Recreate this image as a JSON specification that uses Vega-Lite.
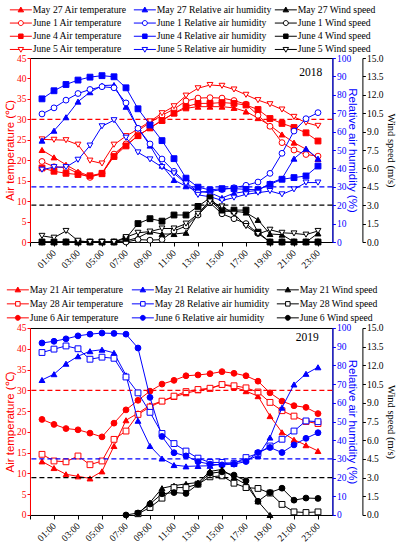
{
"$schema":"https://vega.github.io/schema/vega-lite/v6.json",
"padding":{"left":4,"top":4,"right":0,"bottom":0},
"spacing":14,
"config":{
 "view":{"stroke":"#000000","strokeWidth":1},
 "axis":{"grid":false,"labelFont":"Liberation Serif","labelFontSize":9.5,"titleFont":"Liberation Sans","titleFontSize":11.5,"titleFontWeight":"normal","tickSize":3,"labelPadding":1,"titlePadding":1,"domainWidth":1,"tickWidth":1,"labelFlush":false,"labelOverlap":false},
 "legend":{"title":null,"orient":"none","direction":"vertical","symbolSize":25,"symbolStrokeWidth":1,"symbolOpacity":1,"symbolOffset":8,"labelOffset":7,"labelFont":"Liberation Serif","labelFontSize":9.7,"labelColor":"#000000","rowPadding":2.2,"padding":0}
},
"datasets":{
"d2018":[
{"series":"May 27 Air temperature","hour":0,"value":22.5},{"series":"May 27 Air temperature","hour":1,"value":20.7},{"series":"May 27 Air temperature","hour":2,"value":18.9},{"series":"May 27 Air temperature","hour":3,"value":17.2},{"series":"May 27 Air temperature","hour":4,"value":16.1},{"series":"May 27 Air temperature","hour":5,"value":16.6},{"series":"May 27 Air temperature","hour":6,"value":21.3},{"series":"May 27 Air temperature","hour":7,"value":23.7},{"series":"May 27 Air temperature","hour":8,"value":26.0},{"series":"May 27 Air temperature","hour":9,"value":27.9},{"series":"May 27 Air temperature","hour":10,"value":29.8},{"series":"May 27 Air temperature","hour":11,"value":31.5},{"series":"May 27 Air temperature","hour":12,"value":32.7},{"series":"May 27 Air temperature","hour":13,"value":33.1},{"series":"May 27 Air temperature","hour":14,"value":33.1},{"series":"May 27 Air temperature","hour":15,"value":33.1},{"series":"May 27 Air temperature","hour":16,"value":32.8},{"series":"May 27 Air temperature","hour":17,"value":31.9},{"series":"May 27 Air temperature","hour":18,"value":30.3},{"series":"May 27 Air temperature","hour":19,"value":28.5},{"series":"May 27 Air temperature","hour":20,"value":26.3},{"series":"May 27 Air temperature","hour":21,"value":24.3},{"series":"May 27 Air temperature","hour":22,"value":22.7},{"series":"May 27 Air temperature","hour":23,"value":20.3},
{"series":"June 1 Air temperature","hour":0,"value":19.7},{"series":"June 1 Air temperature","hour":1,"value":18.4},{"series":"June 1 Air temperature","hour":2,"value":18.2},{"series":"June 1 Air temperature","hour":3,"value":16.8},{"series":"June 1 Air temperature","hour":4,"value":15.8},{"series":"June 1 Air temperature","hour":5,"value":16.8},{"series":"June 1 Air temperature","hour":6,"value":21.5},{"series":"June 1 Air temperature","hour":7,"value":24.0},{"series":"June 1 Air temperature","hour":8,"value":27.2},{"series":"June 1 Air temperature","hour":9,"value":29.2},{"series":"June 1 Air temperature","hour":10,"value":31.0},{"series":"June 1 Air temperature","hour":11,"value":32.5},{"series":"June 1 Air temperature","hour":12,"value":34.5},{"series":"June 1 Air temperature","hour":13,"value":35.2},{"series":"June 1 Air temperature","hour":14,"value":35.3},{"series":"June 1 Air temperature","hour":15,"value":35.2},{"series":"June 1 Air temperature","hour":16,"value":34.6},{"series":"June 1 Air temperature","hour":17,"value":33.7},{"series":"June 1 Air temperature","hour":18,"value":31.0},{"series":"June 1 Air temperature","hour":19,"value":28.3},{"series":"June 1 Air temperature","hour":20,"value":24.3},{"series":"June 1 Air temperature","hour":21,"value":22.5},{"series":"June 1 Air temperature","hour":22,"value":21.4},{"series":"June 1 Air temperature","hour":23,"value":21.0},
{"series":"June 4 Air temperature","hour":0,"value":18.1},{"series":"June 4 Air temperature","hour":1,"value":17.3},{"series":"June 4 Air temperature","hour":2,"value":16.8},{"series":"June 4 Air temperature","hour":3,"value":16.5},{"series":"June 4 Air temperature","hour":4,"value":16.2},{"series":"June 4 Air temperature","hour":5,"value":16.8},{"series":"June 4 Air temperature","hour":6,"value":20.9},{"series":"June 4 Air temperature","hour":7,"value":23.5},{"series":"June 4 Air temperature","hour":8,"value":26.0},{"series":"June 4 Air temperature","hour":9,"value":27.9},{"series":"June 4 Air temperature","hour":10,"value":29.7},{"series":"June 4 Air temperature","hour":11,"value":31.5},{"series":"June 4 Air temperature","hour":12,"value":33.1},{"series":"June 4 Air temperature","hour":13,"value":33.9},{"series":"June 4 Air temperature","hour":14,"value":33.9},{"series":"June 4 Air temperature","hour":15,"value":34.1},{"series":"June 4 Air temperature","hour":16,"value":33.9},{"series":"June 4 Air temperature","hour":17,"value":33.5},{"series":"June 4 Air temperature","hour":18,"value":32.4},{"series":"June 4 Air temperature","hour":19,"value":30.2},{"series":"June 4 Air temperature","hour":20,"value":29.0},{"series":"June 4 Air temperature","hour":21,"value":28.0},{"series":"June 4 Air temperature","hour":22,"value":26.7},{"series":"June 4 Air temperature","hour":23,"value":24.7},
{"series":"June 5 Air temperature","hour":0,"value":25.1},{"series":"June 5 Air temperature","hour":1,"value":25.0},{"series":"June 5 Air temperature","hour":2,"value":24.9},{"series":"June 5 Air temperature","hour":3,"value":23.8},{"series":"June 5 Air temperature","hour":4,"value":19.9},{"series":"June 5 Air temperature","hour":5,"value":19.2},{"series":"June 5 Air temperature","hour":6,"value":23.8},{"series":"June 5 Air temperature","hour":7,"value":25.9},{"series":"June 5 Air temperature","hour":8,"value":27.6},{"series":"June 5 Air temperature","hour":9,"value":29.5},{"series":"June 5 Air temperature","hour":10,"value":31.5},{"series":"June 5 Air temperature","hour":11,"value":33.2},{"series":"June 5 Air temperature","hour":12,"value":35.8},{"series":"June 5 Air temperature","hour":13,"value":37.6},{"series":"June 5 Air temperature","hour":14,"value":38.4},{"series":"June 5 Air temperature","hour":15,"value":38.2},{"series":"June 5 Air temperature","hour":16,"value":37.3},{"series":"June 5 Air temperature","hour":17,"value":36.0},{"series":"June 5 Air temperature","hour":18,"value":34.7},{"series":"June 5 Air temperature","hour":19,"value":33.7},{"series":"June 5 Air temperature","hour":20,"value":32.4},{"series":"June 5 Air temperature","hour":21,"value":30.6},{"series":"June 5 Air temperature","hour":22,"value":29.2},{"series":"June 5 Air temperature","hour":23,"value":28.4},
{"series":"May 27 Relative air humidity","hour":0,"value":55.1},{"series":"May 27 Relative air humidity","hour":1,"value":60.5},{"series":"May 27 Relative air humidity","hour":2,"value":67.8},{"series":"May 27 Relative air humidity","hour":3,"value":76.3},{"series":"May 27 Relative air humidity","hour":4,"value":81.4},{"series":"May 27 Relative air humidity","hour":5,"value":85.0},{"series":"May 27 Relative air humidity","hour":6,"value":85.3},{"series":"May 27 Relative air humidity","hour":7,"value":73.5},{"series":"May 27 Relative air humidity","hour":8,"value":62.0},{"series":"May 27 Relative air humidity","hour":9,"value":52.4},{"series":"May 27 Relative air humidity","hour":10,"value":41.5},{"series":"May 27 Relative air humidity","hour":11,"value":33.7},{"series":"May 27 Relative air humidity","hour":12,"value":30.3},{"series":"May 27 Relative air humidity","hour":13,"value":27.5},{"series":"May 27 Relative air humidity","hour":14,"value":26.8},{"series":"May 27 Relative air humidity","hour":15,"value":24.0},{"series":"May 27 Relative air humidity","hour":16,"value":26.5},{"series":"May 27 Relative air humidity","hour":17,"value":27.4},{"series":"May 27 Relative air humidity","hour":18,"value":28.0},{"series":"May 27 Relative air humidity","hour":19,"value":31.9},{"series":"May 27 Relative air humidity","hour":20,"value":34.5},{"series":"May 27 Relative air humidity","hour":21,"value":45.3},{"series":"May 27 Relative air humidity","hour":22,"value":50.7},{"series":"May 27 Relative air humidity","hour":23,"value":45.3},
{"series":"June 1 Relative air humidity","hour":0,"value":69.6},{"series":"June 1 Relative air humidity","hour":1,"value":72.9},{"series":"June 1 Relative air humidity","hour":2,"value":77.1},{"series":"June 1 Relative air humidity","hour":3,"value":80.7},{"series":"June 1 Relative air humidity","hour":4,"value":82.9},{"series":"June 1 Relative air humidity","hour":5,"value":84.4},{"series":"June 1 Relative air humidity","hour":6,"value":83.8},{"series":"June 1 Relative air humidity","hour":7,"value":75.6},{"series":"June 1 Relative air humidity","hour":8,"value":61.8},{"series":"June 1 Relative air humidity","hour":9,"value":53.3},{"series":"June 1 Relative air humidity","hour":10,"value":45.1},{"series":"June 1 Relative air humidity","hour":11,"value":38.4},{"series":"June 1 Relative air humidity","hour":12,"value":32.4},{"series":"June 1 Relative air humidity","hour":13,"value":27.1},{"series":"June 1 Relative air humidity","hour":14,"value":27.5},{"series":"June 1 Relative air humidity","hour":15,"value":28.5},{"series":"June 1 Relative air humidity","hour":16,"value":29.5},{"series":"June 1 Relative air humidity","hour":17,"value":30.8},{"series":"June 1 Relative air humidity","hour":18,"value":32.6},{"series":"June 1 Relative air humidity","hour":19,"value":37.3},{"series":"June 1 Relative air humidity","hour":20,"value":48.2},{"series":"June 1 Relative air humidity","hour":21,"value":60.3},{"series":"June 1 Relative air humidity","hour":22,"value":67.0},{"series":"June 1 Relative air humidity","hour":23,"value":70.3},
{"series":"June 4 Relative air humidity","hour":0,"value":77.8},{"series":"June 4 Relative air humidity","hour":1,"value":82.2},{"series":"June 4 Relative air humidity","hour":2,"value":85.6},{"series":"June 4 Relative air humidity","hour":3,"value":88.0},{"series":"June 4 Relative air humidity","hour":4,"value":89.6},{"series":"June 4 Relative air humidity","hour":5,"value":90.4},{"series":"June 4 Relative air humidity","hour":6,"value":89.8},{"series":"June 4 Relative air humidity","hour":7,"value":83.8},{"series":"June 4 Relative air humidity","hour":8,"value":72.4},{"series":"June 4 Relative air humidity","hour":9,"value":63.6},{"series":"June 4 Relative air humidity","hour":10,"value":55.1},{"series":"June 4 Relative air humidity","hour":11,"value":45.3},{"series":"June 4 Relative air humidity","hour":12,"value":34.7},{"series":"June 4 Relative air humidity","hour":13,"value":29.8},{"series":"June 4 Relative air humidity","hour":14,"value":28.3},{"series":"June 4 Relative air humidity","hour":15,"value":29.0},{"series":"June 4 Relative air humidity","hour":16,"value":29.0},{"series":"June 4 Relative air humidity","hour":17,"value":28.6},{"series":"June 4 Relative air humidity","hour":18,"value":28.4},{"series":"June 4 Relative air humidity","hour":19,"value":31.3},{"series":"June 4 Relative air humidity","hour":20,"value":34.1},{"series":"June 4 Relative air humidity","hour":21,"value":35.0},{"series":"June 4 Relative air humidity","hour":22,"value":35.9},{"series":"June 4 Relative air humidity","hour":23,"value":41.3},
{"series":"June 5 Relative air humidity","hour":0,"value":39.3},{"series":"June 5 Relative air humidity","hour":1,"value":40.7},{"series":"June 5 Relative air humidity","hour":2,"value":40.7},{"series":"June 5 Relative air humidity","hour":3,"value":44.7},{"series":"June 5 Relative air humidity","hour":4,"value":52.4},{"series":"June 5 Relative air humidity","hour":5,"value":62.9},{"series":"June 5 Relative air humidity","hour":6,"value":66.2},{"series":"June 5 Relative air humidity","hour":7,"value":56.7},{"series":"June 5 Relative air humidity","hour":8,"value":48.7},{"series":"June 5 Relative air humidity","hour":9,"value":44.9},{"series":"June 5 Relative air humidity","hour":10,"value":40.7},{"series":"June 5 Relative air humidity","hour":11,"value":37.3},{"series":"June 5 Relative air humidity","hour":12,"value":31.8},{"series":"June 5 Relative air humidity","hour":13,"value":25.6},{"series":"June 5 Relative air humidity","hour":14,"value":24.6},{"series":"June 5 Relative air humidity","hour":15,"value":22.6},{"series":"June 5 Relative air humidity","hour":16,"value":24.1},{"series":"June 5 Relative air humidity","hour":17,"value":25.9},{"series":"June 5 Relative air humidity","hour":18,"value":26.8},{"series":"June 5 Relative air humidity","hour":19,"value":27.7},{"series":"June 5 Relative air humidity","hour":20,"value":25.9},{"series":"June 5 Relative air humidity","hour":21,"value":28.6},{"series":"June 5 Relative air humidity","hour":22,"value":32.3},{"series":"June 5 Relative air humidity","hour":23,"value":32.3},
{"series":"May 27 Wind speed","hour":0,"value":0},{"series":"May 27 Wind speed","hour":1,"value":0},{"series":"May 27 Wind speed","hour":2,"value":0},{"series":"May 27 Wind speed","hour":3,"value":0},{"series":"May 27 Wind speed","hour":4,"value":0},{"series":"May 27 Wind speed","hour":5,"value":0},{"series":"May 27 Wind speed","hour":6,"value":0},{"series":"May 27 Wind speed","hour":7,"value":0.1},{"series":"May 27 Wind speed","hour":8,"value":0.35},{"series":"May 27 Wind speed","hour":9,"value":0.85},{"series":"May 27 Wind speed","hour":10,"value":0.65},{"series":"May 27 Wind speed","hour":11,"value":0.65},{"series":"May 27 Wind speed","hour":12,"value":0.75},{"series":"May 27 Wind speed","hour":13,"value":2.3},{"series":"May 27 Wind speed","hour":14,"value":3.4},{"series":"May 27 Wind speed","hour":15,"value":2.5},{"series":"May 27 Wind speed","hour":16,"value":2.5},{"series":"May 27 Wind speed","hour":17,"value":2.4},{"series":"May 27 Wind speed","hour":18,"value":1.8},{"series":"May 27 Wind speed","hour":19,"value":0.65},{"series":"May 27 Wind speed","hour":20,"value":0.6},{"series":"May 27 Wind speed","hour":21,"value":0},{"series":"May 27 Wind speed","hour":22,"value":0},{"series":"May 27 Wind speed","hour":23,"value":0.7},
{"series":"June 1 Wind speed","hour":0,"value":0},{"series":"June 1 Wind speed","hour":1,"value":0},{"series":"June 1 Wind speed","hour":2,"value":0},{"series":"June 1 Wind speed","hour":3,"value":0},{"series":"June 1 Wind speed","hour":4,"value":0},{"series":"June 1 Wind speed","hour":5,"value":0},{"series":"June 1 Wind speed","hour":6,"value":0},{"series":"June 1 Wind speed","hour":7,"value":0},{"series":"June 1 Wind speed","hour":8,"value":0.2},{"series":"June 1 Wind speed","hour":9,"value":0.15},{"series":"June 1 Wind speed","hour":10,"value":0.2},{"series":"June 1 Wind speed","hour":11,"value":0.9},{"series":"June 1 Wind speed","hour":12,"value":1.3},{"series":"June 1 Wind speed","hour":13,"value":2.2},{"series":"June 1 Wind speed","hour":14,"value":3.2},{"series":"June 1 Wind speed","hour":15,"value":2.3},{"series":"June 1 Wind speed","hour":16,"value":1.9},{"series":"June 1 Wind speed","hour":17,"value":1.5},{"series":"June 1 Wind speed","hour":18,"value":0.7},{"series":"June 1 Wind speed","hour":19,"value":0},{"series":"June 1 Wind speed","hour":20,"value":0},{"series":"June 1 Wind speed","hour":21,"value":0},{"series":"June 1 Wind speed","hour":22,"value":0},{"series":"June 1 Wind speed","hour":23,"value":0},
{"series":"June 4 Wind speed","hour":0,"value":0},{"series":"June 4 Wind speed","hour":1,"value":0},{"series":"June 4 Wind speed","hour":2,"value":0},{"series":"June 4 Wind speed","hour":3,"value":0},{"series":"June 4 Wind speed","hour":4,"value":0},{"series":"June 4 Wind speed","hour":5,"value":0},{"series":"June 4 Wind speed","hour":6,"value":0},{"series":"June 4 Wind speed","hour":7,"value":0.3},{"series":"June 4 Wind speed","hour":8,"value":1.5},{"series":"June 4 Wind speed","hour":9,"value":1.9},{"series":"June 4 Wind speed","hour":10,"value":1.7},{"series":"June 4 Wind speed","hour":11,"value":2.2},{"series":"June 4 Wind speed","hour":12,"value":2.2},{"series":"June 4 Wind speed","hour":13,"value":2.9},{"series":"June 4 Wind speed","hour":14,"value":3.6},{"series":"June 4 Wind speed","hour":15,"value":2.6},{"series":"June 4 Wind speed","hour":16,"value":2.6},{"series":"June 4 Wind speed","hour":17,"value":2.6},{"series":"June 4 Wind speed","hour":18,"value":0.8},{"series":"June 4 Wind speed","hour":19,"value":0},{"series":"June 4 Wind speed","hour":20,"value":0},{"series":"June 4 Wind speed","hour":21,"value":0},{"series":"June 4 Wind speed","hour":22,"value":0},{"series":"June 4 Wind speed","hour":23,"value":0},
{"series":"June 5 Wind speed","hour":0,"value":0.5},{"series":"June 5 Wind speed","hour":1,"value":0.35},{"series":"June 5 Wind speed","hour":2,"value":0.9},{"series":"June 5 Wind speed","hour":3,"value":0.1},{"series":"June 5 Wind speed","hour":4,"value":0},{"series":"June 5 Wind speed","hour":5,"value":0},{"series":"June 5 Wind speed","hour":6,"value":0},{"series":"June 5 Wind speed","hour":7,"value":0.4},{"series":"June 5 Wind speed","hour":8,"value":0.75},{"series":"June 5 Wind speed","hour":9,"value":0.85},{"series":"June 5 Wind speed","hour":10,"value":1.1},{"series":"June 5 Wind speed","hour":11,"value":1.1},{"series":"June 5 Wind speed","hour":12,"value":1.5},{"series":"June 5 Wind speed","hour":13,"value":2.3},{"series":"June 5 Wind speed","hour":14,"value":3.3},{"series":"June 5 Wind speed","hour":15,"value":2.9},{"series":"June 5 Wind speed","hour":16,"value":2.3},{"series":"June 5 Wind speed","hour":17,"value":1.3},{"series":"June 5 Wind speed","hour":18,"value":0.65},{"series":"June 5 Wind speed","hour":19,"value":1.0},{"series":"June 5 Wind speed","hour":20,"value":0.75},{"series":"June 5 Wind speed","hour":21,"value":0.7},{"series":"June 5 Wind speed","hour":22,"value":0.6},{"series":"June 5 Wind speed","hour":23,"value":0.9}
],
"d2019":[
{"series":"May 21 Air temperature","hour":0,"value":12.9},{"series":"May 21 Air temperature","hour":1,"value":11.3},{"series":"May 21 Air temperature","hour":2,"value":9.8},{"series":"May 21 Air temperature","hour":3,"value":9.3},{"series":"May 21 Air temperature","hour":4,"value":8.8},{"series":"May 21 Air temperature","hour":5,"value":10.5},{"series":"May 21 Air temperature","hour":6,"value":16.6},{"series":"May 21 Air temperature","hour":7,"value":22.8},{"series":"May 21 Air temperature","hour":8,"value":24.5},{"series":"May 21 Air temperature","hour":9,"value":26.4},{"series":"May 21 Air temperature","hour":10,"value":27.4},{"series":"May 21 Air temperature","hour":11,"value":28.4},{"series":"May 21 Air temperature","hour":12,"value":29.3},{"series":"May 21 Air temperature","hour":13,"value":30.0},{"series":"May 21 Air temperature","hour":14,"value":30.4},{"series":"May 21 Air temperature","hour":15,"value":31.4},{"series":"May 21 Air temperature","hour":16,"value":30.8},{"series":"May 21 Air temperature","hour":17,"value":29.8},{"series":"May 21 Air temperature","hour":18,"value":28.6},{"series":"May 21 Air temperature","hour":19,"value":23.8},{"series":"May 21 Air temperature","hour":20,"value":19.9},{"series":"May 21 Air temperature","hour":21,"value":18.1},{"series":"May 21 Air temperature","hour":22,"value":16.8},{"series":"May 21 Air temperature","hour":23,"value":15.4},
{"series":"May 28 Air temperature","hour":0,"value":14.6},{"series":"May 28 Air temperature","hour":1,"value":13.0},{"series":"May 28 Air temperature","hour":2,"value":12.8},{"series":"May 28 Air temperature","hour":3,"value":14.2},{"series":"May 28 Air temperature","hour":4,"value":12.1},{"series":"May 28 Air temperature","hour":5,"value":13.0},{"series":"May 28 Air temperature","hour":6,"value":18.2},{"series":"May 28 Air temperature","hour":7,"value":20.2},{"series":"May 28 Air temperature","hour":8,"value":24.2},{"series":"May 28 Air temperature","hour":9,"value":26.0},{"series":"May 28 Air temperature","hour":10,"value":27.4},{"series":"May 28 Air temperature","hour":11,"value":28.6},{"series":"May 28 Air temperature","hour":12,"value":29.7},{"series":"May 28 Air temperature","hour":13,"value":30.2},{"series":"May 28 Air temperature","hour":14,"value":30.5},{"series":"May 28 Air temperature","hour":15,"value":31.4},{"series":"May 28 Air temperature","hour":16,"value":31.1},{"series":"May 28 Air temperature","hour":17,"value":30.6},{"series":"May 28 Air temperature","hour":18,"value":29.6},{"series":"May 28 Air temperature","hour":19,"value":27.1},{"series":"May 28 Air temperature","hour":20,"value":25.1},{"series":"May 28 Air temperature","hour":21,"value":23.8},{"series":"May 28 Air temperature","hour":22,"value":22.5},{"series":"May 28 Air temperature","hour":23,"value":22.0},
{"series":"June 6 Air temperature","hour":0,"value":23.0},{"series":"June 6 Air temperature","hour":1,"value":21.8},{"series":"June 6 Air temperature","hour":2,"value":20.8},{"series":"June 6 Air temperature","hour":3,"value":20.5},{"series":"June 6 Air temperature","hour":4,"value":19.7},{"series":"June 6 Air temperature","hour":5,"value":18.8},{"series":"June 6 Air temperature","hour":6,"value":22.1},{"series":"June 6 Air temperature","hour":7,"value":25.3},{"series":"June 6 Air temperature","hour":8,"value":27.6},{"series":"June 6 Air temperature","hour":9,"value":29.8},{"series":"June 6 Air temperature","hour":10,"value":31.5},{"series":"June 6 Air temperature","hour":11,"value":32.4},{"series":"June 6 Air temperature","hour":12,"value":33.5},{"series":"June 6 Air temperature","hour":13,"value":33.7},{"series":"June 6 Air temperature","hour":14,"value":34.0},{"series":"June 6 Air temperature","hour":15,"value":34.5},{"series":"June 6 Air temperature","hour":16,"value":34.1},{"series":"June 6 Air temperature","hour":17,"value":33.5},{"series":"June 6 Air temperature","hour":18,"value":32.2},{"series":"June 6 Air temperature","hour":19,"value":29.4},{"series":"June 6 Air temperature","hour":20,"value":27.4},{"series":"June 6 Air temperature","hour":21,"value":26.3},{"series":"June 6 Air temperature","hour":22,"value":25.9},{"series":"June 6 Air temperature","hour":23,"value":24.4},
{"series":"May 21 Relative air humidity","hour":0,"value":72.2},{"series":"May 21 Relative air humidity","hour":1,"value":75.3},{"series":"May 21 Relative air humidity","hour":2,"value":80.9},{"series":"May 21 Relative air humidity","hour":3,"value":84.9},{"series":"May 21 Relative air humidity","hour":4,"value":87.6},{"series":"May 21 Relative air humidity","hour":5,"value":88.4},{"series":"May 21 Relative air humidity","hour":6,"value":86.7},{"series":"May 21 Relative air humidity","hour":7,"value":74.7},{"series":"May 21 Relative air humidity","hour":8,"value":50.4},{"series":"May 21 Relative air humidity","hour":9,"value":36.9},{"series":"May 21 Relative air humidity","hour":10,"value":30.2},{"series":"May 21 Relative air humidity","hour":11,"value":26.7},{"series":"May 21 Relative air humidity","hour":12,"value":26.0},{"series":"May 21 Relative air humidity","hour":13,"value":26.2},{"series":"May 21 Relative air humidity","hour":14,"value":26.3},{"series":"May 21 Relative air humidity","hour":15,"value":27.2},{"series":"May 21 Relative air humidity","hour":16,"value":28.1},{"series":"May 21 Relative air humidity","hour":17,"value":29.3},{"series":"May 21 Relative air humidity","hour":18,"value":31.6},{"series":"May 21 Relative air humidity","hour":19,"value":41.4},{"series":"May 21 Relative air humidity","hour":20,"value":57.4},{"series":"May 21 Relative air humidity","hour":21,"value":69.8},{"series":"May 21 Relative air humidity","hour":22,"value":75.5},{"series":"May 21 Relative air humidity","hour":23,"value":79.0},
{"series":"May 28 Relative air humidity","hour":0,"value":86.9},{"series":"May 28 Relative air humidity","hour":1,"value":88.7},{"series":"May 28 Relative air humidity","hour":2,"value":90.4},{"series":"May 28 Relative air humidity","hour":3,"value":88.9},{"series":"May 28 Relative air humidity","hour":4,"value":83.3},{"series":"May 28 Relative air humidity","hour":5,"value":84.4},{"series":"May 28 Relative air humidity","hour":6,"value":83.8},{"series":"May 28 Relative air humidity","hour":7,"value":73.8},{"series":"May 28 Relative air humidity","hour":8,"value":65.3},{"series":"May 28 Relative air humidity","hour":9,"value":54.9},{"series":"May 28 Relative air humidity","hour":10,"value":43.6},{"series":"May 28 Relative air humidity","hour":11,"value":38.2},{"series":"May 28 Relative air humidity","hour":12,"value":34.2},{"series":"May 28 Relative air humidity","hour":13,"value":30.4},{"series":"May 28 Relative air humidity","hour":14,"value":28.1},{"series":"May 28 Relative air humidity","hour":15,"value":28.1},{"series":"May 28 Relative air humidity","hour":16,"value":27.5},{"series":"May 28 Relative air humidity","hour":17,"value":30.7},{"series":"May 28 Relative air humidity","hour":18,"value":32.9},{"series":"May 28 Relative air humidity","hour":19,"value":36.9},{"series":"May 28 Relative air humidity","hour":20,"value":40.5},{"series":"May 28 Relative air humidity","hour":21,"value":44.9},{"series":"May 28 Relative air humidity","hour":22,"value":50.3},{"series":"May 28 Relative air humidity","hour":23,"value":49.9},
{"series":"June 6 Relative air humidity","hour":0,"value":92.0},{"series":"June 6 Relative air humidity","hour":1,"value":92.9},{"series":"June 6 Relative air humidity","hour":2,"value":94.2},{"series":"June 6 Relative air humidity","hour":3,"value":95.8},{"series":"June 6 Relative air humidity","hour":4,"value":96.7},{"series":"June 6 Relative air humidity","hour":5,"value":97.3},{"series":"June 6 Relative air humidity","hour":6,"value":97.1},{"series":"June 6 Relative air humidity","hour":7,"value":96.7},{"series":"June 6 Relative air humidity","hour":8,"value":89.3},{"series":"June 6 Relative air humidity","hour":9,"value":62.9},{"series":"June 6 Relative air humidity","hour":10,"value":42.0},{"series":"June 6 Relative air humidity","hour":11,"value":33.3},{"series":"June 6 Relative air humidity","hour":12,"value":31.6},{"series":"June 6 Relative air humidity","hour":13,"value":28.5},{"series":"June 6 Relative air humidity","hour":14,"value":27.2},{"series":"June 6 Relative air humidity","hour":15,"value":26.8},{"series":"June 6 Relative air humidity","hour":16,"value":27.2},{"series":"June 6 Relative air humidity","hour":17,"value":28.6},{"series":"June 6 Relative air humidity","hour":18,"value":33.4},{"series":"June 6 Relative air humidity","hour":19,"value":36.1},{"series":"June 6 Relative air humidity","hour":20,"value":33.4},{"series":"June 6 Relative air humidity","hour":21,"value":37.5},{"series":"June 6 Relative air humidity","hour":22,"value":41.0},{"series":"June 6 Relative air humidity","hour":23,"value":44.0},
{"series":"May 21 Wind speed","hour":8,"value":0.1},{"series":"May 21 Wind speed","hour":9,"value":1.0},{"series":"May 21 Wind speed","hour":10,"value":2.15},{"series":"May 21 Wind speed","hour":11,"value":2.35},{"series":"May 21 Wind speed","hour":12,"value":2.5},{"series":"May 21 Wind speed","hour":13,"value":2.6},{"series":"May 21 Wind speed","hour":14,"value":3.5},{"series":"May 21 Wind speed","hour":15,"value":3.65},{"series":"May 21 Wind speed","hour":16,"value":3.0},{"series":"May 21 Wind speed","hour":17,"value":2.45},{"series":"May 21 Wind speed","hour":18,"value":1.1},{"series":"May 21 Wind speed","hour":19,"value":0.0},
{"series":"May 28 Wind speed","hour":8,"value":0.1},{"series":"May 28 Wind speed","hour":9,"value":0.6},{"series":"May 28 Wind speed","hour":10,"value":1.35},{"series":"May 28 Wind speed","hour":11,"value":2.2},{"series":"May 28 Wind speed","hour":12,"value":2.2},{"series":"May 28 Wind speed","hour":13,"value":2.47},{"series":"May 28 Wind speed","hour":14,"value":3.06},{"series":"May 28 Wind speed","hour":15,"value":3.14},{"series":"May 28 Wind speed","hour":16,"value":2.55},{"series":"May 28 Wind speed","hour":17,"value":2.2},{"series":"May 28 Wind speed","hour":18,"value":2.13},{"series":"May 28 Wind speed","hour":19,"value":1.76},{"series":"May 28 Wind speed","hour":20,"value":0.85},{"series":"May 28 Wind speed","hour":21,"value":0.25},{"series":"May 28 Wind speed","hour":22,"value":0.2},{"series":"May 28 Wind speed","hour":23,"value":0.25},
{"series":"June 6 Wind speed","hour":7,"value":0.0},{"series":"June 6 Wind speed","hour":8,"value":0.16},{"series":"June 6 Wind speed","hour":9,"value":0.88},{"series":"June 6 Wind speed","hour":10,"value":1.7},{"series":"June 6 Wind speed","hour":11,"value":1.8},{"series":"June 6 Wind speed","hour":12,"value":1.73},{"series":"June 6 Wind speed","hour":13,"value":2.47},{"series":"June 6 Wind speed","hour":14,"value":3.35},{"series":"June 6 Wind speed","hour":15,"value":3.46},{"series":"June 6 Wind speed","hour":16,"value":3.2},{"series":"June 6 Wind speed","hour":17,"value":2.74},{"series":"June 6 Wind speed","hour":18,"value":1.1},{"series":"June 6 Wind speed","hour":19,"value":1.8},{"series":"June 6 Wind speed","hour":20,"value":2.15},{"series":"June 6 Wind speed","hour":21,"value":1.19},{"series":"June 6 Wind speed","hour":22,"value":1.36},{"series":"June 6 Wind speed","hour":23,"value":1.33}
]
},
"vconcat":[
{
 "width":302.4,"height":184,
 "data":{"name":"d2018"},
 "layer":[
  {"encoding":{"y":{"field":"value","type":"quantitative","scale":{"domain":[0,45],"nice":false,"zero":false},"axis":{"orient":"left","values":[0,5,10,15,20,25,30,35,40,45],"title":"Air temperature (℃)","titleColor":"#ff0000","labelColor":"#ff0000","domainColor":"#ff0000","tickColor":"#ff0000"}}},
   "layer":[
    {"transform":[{"filter":"indexof(datum.series,'Air temperature')>=0"}],"mark":{"type":"line","strokeWidth":1},
     "encoding":{"x":{"field":"hour","type":"quantitative","scale":{"domain":[-1,24.2],"nice":false,"zero":false},"axis":{"orient":"bottom","values":[-1,1,5,9,13,17,21],"labelExpr":"datum.value<0?'':(datum.value<10?'0':'')+datum.value+':00'","labelAngle":-45,"labelAlign":"right","labelBaseline":"middle","labelPadding":5,"labelOverlap":false,"tickSize":4,"title":null,"domainColor":"#000000","tickColor":"#000000","labelColor":"#000000"}},
      "color":{"field":"series","type":"nominal","legend":null,"scale":{"domain":["May 27 Air temperature","June 1 Air temperature","June 4 Air temperature","June 5 Air temperature"],"range":["#ff0000","#ff0000","#ff0000","#ff0000"]}}}},
    {"transform":[{"filter":"indexof(datum.series,'Air temperature')>=0"}],"mark":{"type":"point","opacity":1,"size":34,"strokeWidth":1},
     "encoding":{"x":{"field":"hour","type":"quantitative"},"color":{"field":"series","type":"nominal","legend":null},
      "shape":{"field":"series","type":"nominal","legend":null,"scale":{"domain":["May 27 Air temperature","June 1 Air temperature","June 4 Air temperature","June 5 Air temperature"],"range":["triangle-up","circle","square","triangle-down"]}},
      "fill":{"field":"series","type":"nominal","legend":null,"scale":{"domain":["May 27 Air temperature","June 1 Air temperature","June 4 Air temperature","June 5 Air temperature"],"range":["#ff0000","#ffffff","#ff0000","#ffffff"]}}}},
    {"transform":[{"filter":"datum.hour<-100"}],"mark":{"type":"point","filled":false,"color":"#ff0000","size":25,"strokeWidth":1,"opacity":1},
     "encoding":{"x":{"field":"hour","type":"quantitative"},
      "shape":{"field":"series","type":"nominal","scale":{"domain":["May 27 Air temperature","June 1 Air temperature","June 4 Air temperature","June 5 Air temperature"],"range":["M-4.4,0H-0.64M0.64,0H4.4M0,-1.1L1.1,0.8L-1.1,0.8Z","M-4.4,0H-1M1,0H4.4M-1,0A1,1,0,1,1,1,0A1,1,0,1,1,-1,0Z","M-4.4,0H-0.9M0.9,0H4.4M-0.9,-0.9H0.9V0.9H-0.9Z","M-4.4,0H-0.64M0.64,0H4.4M0,1.1L1.1,-0.8L-1.1,-0.8Z"]},"legend":{"legendX":-22,"legendY":-53}},
      "fill":{"field":"series","type":"nominal","scale":{"domain":["May 27 Air temperature","June 1 Air temperature","June 4 Air temperature","June 5 Air temperature"],"range":["#ff0000","#ffffff","#ff0000","#ffffff"]},"legend":{"legendX":-22,"legendY":-53}}}},
    {"data":{"values":[{"value":30}]},"mark":{"type":"rule","color":"#ff0000","strokeDash":[5,3],"strokeWidth":1.2},"encoding":{}},
    {"data":{"values":[{"hour":22.4,"value":41.3,"label":"2018"}]},"mark":{"type":"text","font":"Liberation Serif","fontSize":11.5,"color":"#000000"},"encoding":{"x":{"field":"hour","type":"quantitative"},"text":{"field":"label"}}}
   ],
   "resolve":{"scale":{"shape":"independent","fill":"independent"}}},
  {"encoding":{"y":{"field":"value","type":"quantitative","scale":{"domain":[0,100],"nice":false,"zero":false},"axis":{"orient":"right","values":[0,10,20,30,40,50,60,70,80,90,100],"title":"Relative air humidity (%)","titlePadding":-4,"titleColor":"#0000ff","labelColor":"#0000ff","domainColor":"#0000ff","tickColor":"#0000ff"}}},
   "layer":[
    {"transform":[{"filter":"indexof(datum.series,'humidity')>=0"}],"mark":{"type":"line","strokeWidth":1},"encoding":{"x":{"field":"hour","type":"quantitative","scale":{"domain":[-1,24.2],"nice":false,"zero":false},"axis":{"orient":"bottom","values":[3,7,11,15,19,23],"labelExpr":"(datum.value<10?'0':'')+datum.value+':00'","labelAngle":-45,"labelAlign":"right","labelBaseline":"middle","labelPadding":5,"labelOverlap":false,"tickSize":4,"title":null,"domain":false,"tickColor":"#000000","labelColor":"#000000"}},
      "color":{"field":"series","type":"nominal","legend":null,"scale":{"domain":["May 27 Relative air humidity","June 1 Relative air humidity","June 4 Relative air humidity","June 5 Relative air humidity"],"range":["#0000ff","#0000ff","#0000ff","#0000ff"]}}}},
    {"transform":[{"filter":"indexof(datum.series,'humidity')>=0"}],"mark":{"type":"point","opacity":1,"size":34,"strokeWidth":1},"encoding":{"x":{"field":"hour","type":"quantitative"},"color":{"field":"series","type":"nominal","legend":null},
      "shape":{"field":"series","type":"nominal","legend":null,"scale":{"domain":["May 27 Relative air humidity","June 1 Relative air humidity","June 4 Relative air humidity","June 5 Relative air humidity"],"range":["triangle-up","circle","square","triangle-down"]}},
      "fill":{"field":"series","type":"nominal","legend":null,"scale":{"domain":["May 27 Relative air humidity","June 1 Relative air humidity","June 4 Relative air humidity","June 5 Relative air humidity"],"range":["#0000ff","#ffffff","#0000ff","#ffffff"]}}}},
    {"transform":[{"filter":"datum.hour<-100"}],"mark":{"type":"point","filled":false,"color":"#0000ff","size":25,"strokeWidth":1,"opacity":1},
     "encoding":{"x":{"field":"hour","type":"quantitative"},
      "shape":{"field":"series","type":"nominal","scale":{"domain":["May 27 Relative air humidity","June 1 Relative air humidity","June 4 Relative air humidity","June 5 Relative air humidity"],"range":["M-4.4,0H-0.64M0.64,0H4.4M0,-1.1L1.1,0.8L-1.1,0.8Z","M-4.4,0H-1M1,0H4.4M-1,0A1,1,0,1,1,1,0A1,1,0,1,1,-1,0Z","M-4.4,0H-0.9M0.9,0H4.4M-0.9,-0.9H0.9V0.9H-0.9Z","M-4.4,0H-0.64M0.64,0H4.4M0,1.1L1.1,-0.8L-1.1,-0.8Z"]},"legend":{"legendX":102,"legendY":-53}},
      "fill":{"field":"series","type":"nominal","scale":{"domain":["May 27 Relative air humidity","June 1 Relative air humidity","June 4 Relative air humidity","June 5 Relative air humidity"],"range":["#0000ff","#ffffff","#0000ff","#ffffff"]},"legend":{"legendX":102,"legendY":-53}}}},
    {"data":{"values":[{"value":30}]},"mark":{"type":"rule","color":"#0000ff","strokeDash":[5,3],"strokeWidth":1.2},"encoding":{}}
   ],
   "resolve":{"scale":{"shape":"independent","fill":"independent"}}},
  {"encoding":{"y":{"field":"value","type":"quantitative","scale":{"domain":[0,15],"nice":false,"zero":false},"axis":{"orient":"right","offset":30,"values":[0,1.5,3,4.5,6,7.5,9,10.5,12,13.5,15],"format":".1f","title":"Wind speed (m/s)","titleFont":"Liberation Serif","titleFontSize":10.5,"titlePadding":2,"titleColor":"#000000","labelColor":"#000000","domainColor":"#000000","tickColor":"#000000"}}},
   "layer":[
    {"transform":[{"filter":"indexof(datum.series,'Wind')>=0"}],"mark":{"type":"line","strokeWidth":1},"encoding":{"x":{"field":"hour","type":"quantitative","scale":{"domain":[-1,24.2],"nice":false,"zero":false},"axis":null},
      "color":{"field":"series","type":"nominal","legend":null,"scale":{"domain":["May 27 Wind speed","June 1 Wind speed","June 4 Wind speed","June 5 Wind speed"],"range":["#000000","#000000","#000000","#000000"]}}}},
    {"transform":[{"filter":"indexof(datum.series,'Wind')>=0"}],"mark":{"type":"point","opacity":1,"size":34,"strokeWidth":1},"encoding":{"x":{"field":"hour","type":"quantitative"},"color":{"field":"series","type":"nominal","legend":null},
      "shape":{"field":"series","type":"nominal","legend":null,"scale":{"domain":["May 27 Wind speed","June 1 Wind speed","June 4 Wind speed","June 5 Wind speed"],"range":["triangle-up","circle","square","triangle-down"]}},
      "fill":{"field":"series","type":"nominal","legend":null,"scale":{"domain":["May 27 Wind speed","June 1 Wind speed","June 4 Wind speed","June 5 Wind speed"],"range":["#000000","#ffffff","#000000","#ffffff"]}}}},
    {"transform":[{"filter":"datum.hour<-100"}],"mark":{"type":"point","filled":false,"color":"#000000","size":25,"strokeWidth":1,"opacity":1},
     "encoding":{"x":{"field":"hour","type":"quantitative"},
      "shape":{"field":"series","type":"nominal","scale":{"domain":["May 27 Wind speed","June 1 Wind speed","June 4 Wind speed","June 5 Wind speed"],"range":["M-4.4,0H-0.64M0.64,0H4.4M0,-1.1L1.1,0.8L-1.1,0.8Z","M-4.4,0H-1M1,0H4.4M-1,0A1,1,0,1,1,1,0A1,1,0,1,1,-1,0Z","M-4.4,0H-0.9M0.9,0H4.4M-0.9,-0.9H0.9V0.9H-0.9Z","M-4.4,0H-0.64M0.64,0H4.4M0,1.1L1.1,-0.8L-1.1,-0.8Z"]},"legend":{"legendX":243,"legendY":-53}},
      "fill":{"field":"series","type":"nominal","scale":{"domain":["May 27 Wind speed","June 1 Wind speed","June 4 Wind speed","June 5 Wind speed"],"range":["#000000","#ffffff","#000000","#ffffff"]},"legend":{"legendX":243,"legendY":-53}}}},
    {"data":{"values":[{"value":3}]},"mark":{"type":"rule","color":"#000000","strokeDash":[5,3],"strokeWidth":1.2},"encoding":{}}
   ],
   "resolve":{"scale":{"shape":"independent","fill":"independent"}}}
 ],
 "resolve":{"scale":{"x":"independent","y":"independent","color":"independent","shape":"independent","fill":"independent"}}
},
{
 "width":302.4,"height":187,
 "data":{"name":"d2019"},
 "layer":[
  {"encoding":{"y":{"field":"value","type":"quantitative","scale":{"domain":[0,45],"nice":false,"zero":false},"axis":{"orient":"left","values":[0,5,10,15,20,25,30,35,40,45],"title":"Air temperature (℃)","titleColor":"#ff0000","labelColor":"#ff0000","domainColor":"#ff0000","tickColor":"#ff0000"}}},
   "layer":[
    {"transform":[{"filter":"indexof(datum.series,'Air temperature')>=0"}],"mark":{"type":"line","strokeWidth":1},
     "encoding":{"x":{"field":"hour","type":"quantitative","scale":{"domain":[-1,24.2],"nice":false,"zero":false},"axis":{"orient":"bottom","values":[-1,1,5,9,13,17,21],"labelExpr":"datum.value<0?'':(datum.value<10?'0':'')+datum.value+':00'","labelAngle":-45,"labelAlign":"right","labelBaseline":"middle","labelPadding":5,"labelOverlap":false,"tickSize":4,"title":null,"domainColor":"#000000","tickColor":"#000000","labelColor":"#000000"}},
      "color":{"field":"series","type":"nominal","legend":null,"scale":{"domain":["May 21 Air temperature","May 28 Air temperature","June 6 Air temperature"],"range":["#ff0000","#ff0000","#ff0000"]}}}},
    {"transform":[{"filter":"indexof(datum.series,'Air temperature')>=0"}],"mark":{"type":"point","opacity":1,"size":34,"strokeWidth":1},
     "encoding":{"x":{"field":"hour","type":"quantitative"},"color":{"field":"series","type":"nominal","legend":null},
      "shape":{"field":"series","type":"nominal","legend":null,"scale":{"domain":["May 21 Air temperature","May 28 Air temperature","June 6 Air temperature"],"range":["triangle-up","square","circle"]}},
      "fill":{"field":"series","type":"nominal","legend":null,"scale":{"domain":["May 21 Air temperature","May 28 Air temperature","June 6 Air temperature"],"range":["#ff0000","#ffffff","#ff0000"]}}}},
    {"transform":[{"filter":"datum.hour<-100"}],"mark":{"type":"point","filled":false,"color":"#ff0000","size":25,"strokeWidth":1,"opacity":1},
     "encoding":{"x":{"field":"hour","type":"quantitative"},
      "shape":{"field":"series","type":"nominal","scale":{"domain":["May 21 Air temperature","May 28 Air temperature","June 6 Air temperature"],"range":["M-4.4,0H-0.64M0.64,0H4.4M0,-1.1L1.1,0.8L-1.1,0.8Z","M-4.4,0H-0.9M0.9,0H4.4M-0.9,-0.9H0.9V0.9H-0.9Z","M-4.4,0H-1M1,0H4.4M-1,0A1,1,0,1,1,1,0A1,1,0,1,1,-1,0Z"]},"legend":{"legendX":-25,"legendY":-43,"rowPadding":3}},
      "fill":{"field":"series","type":"nominal","scale":{"domain":["May 21 Air temperature","May 28 Air temperature","June 6 Air temperature"],"range":["#ff0000","#ffffff","#ff0000"]},"legend":{"legendX":-25,"legendY":-43,"rowPadding":3}}}},
    {"data":{"values":[{"value":30}]},"mark":{"type":"rule","color":"#ff0000","strokeDash":[5,3],"strokeWidth":1.2},"encoding":{}},
    {"data":{"values":[{"hour":22.1,"value":42.5,"label":"2019"}]},"mark":{"type":"text","font":"Liberation Serif","fontSize":11.5,"color":"#000000"},"encoding":{"x":{"field":"hour","type":"quantitative"},"text":{"field":"label"}}}
   ],
   "resolve":{"scale":{"shape":"independent","fill":"independent"}}},
  {"encoding":{"y":{"field":"value","type":"quantitative","scale":{"domain":[0,100],"nice":false,"zero":false},"axis":{"orient":"right","values":[0,10,20,30,40,50,60,70,80,90,100],"title":"Relative air humidity (%)","titlePadding":-4,"titleColor":"#0000ff","labelColor":"#0000ff","domainColor":"#0000ff","tickColor":"#0000ff"}}},
   "layer":[
    {"transform":[{"filter":"indexof(datum.series,'humidity')>=0"}],"mark":{"type":"line","strokeWidth":1},"encoding":{"x":{"field":"hour","type":"quantitative","scale":{"domain":[-1,24.2],"nice":false,"zero":false},"axis":{"orient":"bottom","values":[3,7,11,15,19,23],"labelExpr":"(datum.value<10?'0':'')+datum.value+':00'","labelAngle":-45,"labelAlign":"right","labelBaseline":"middle","labelPadding":5,"labelOverlap":false,"tickSize":4,"title":null,"domain":false,"tickColor":"#000000","labelColor":"#000000"}},
      "color":{"field":"series","type":"nominal","legend":null,"scale":{"domain":["May 21 Relative air humidity","May 28 Relative air humidity","June 6 Relative air humidity"],"range":["#0000ff","#0000ff","#0000ff"]}}}},
    {"transform":[{"filter":"indexof(datum.series,'humidity')>=0"}],"mark":{"type":"point","opacity":1,"size":34,"strokeWidth":1},"encoding":{"x":{"field":"hour","type":"quantitative"},"color":{"field":"series","type":"nominal","legend":null},
      "shape":{"field":"series","type":"nominal","legend":null,"scale":{"domain":["May 21 Relative air humidity","May 28 Relative air humidity","June 6 Relative air humidity"],"range":["triangle-up","square","circle"]}},
      "fill":{"field":"series","type":"nominal","legend":null,"scale":{"domain":["May 21 Relative air humidity","May 28 Relative air humidity","June 6 Relative air humidity"],"range":["#0000ff","#ffffff","#0000ff"]}}}},
    {"transform":[{"filter":"datum.hour<-100"}],"mark":{"type":"point","filled":false,"color":"#0000ff","size":25,"strokeWidth":1,"opacity":1},
     "encoding":{"x":{"field":"hour","type":"quantitative"},
      "shape":{"field":"series","type":"nominal","scale":{"domain":["May 21 Relative air humidity","May 28 Relative air humidity","June 6 Relative air humidity"],"range":["M-4.4,0H-0.64M0.64,0H4.4M0,-1.1L1.1,0.8L-1.1,0.8Z","M-4.4,0H-0.9M0.9,0H4.4M-0.9,-0.9H0.9V0.9H-0.9Z","M-4.4,0H-1M1,0H4.4M-1,0A1,1,0,1,1,1,0A1,1,0,1,1,-1,0Z"]},"legend":{"legendX":100,"legendY":-43,"rowPadding":3}},
      "fill":{"field":"series","type":"nominal","scale":{"domain":["May 21 Relative air humidity","May 28 Relative air humidity","June 6 Relative air humidity"],"range":["#0000ff","#ffffff","#0000ff"]},"legend":{"legendX":100,"legendY":-43,"rowPadding":3}}}},
    {"data":{"values":[{"value":30}]},"mark":{"type":"rule","color":"#0000ff","strokeDash":[5,3],"strokeWidth":1.2},"encoding":{}}
   ],
   "resolve":{"scale":{"shape":"independent","fill":"independent"}}},
  {"encoding":{"y":{"field":"value","type":"quantitative","scale":{"domain":[0,15],"nice":false,"zero":false},"axis":{"orient":"right","offset":30,"values":[0,1.5,3,4.5,6,7.5,9,10.5,12,13.5,15],"format":".1f","title":"Wind speed (m/s)","titleFont":"Liberation Serif","titleFontSize":10.5,"titlePadding":2,"titleColor":"#000000","labelColor":"#000000","domainColor":"#000000","tickColor":"#000000"}}},
   "layer":[
    {"transform":[{"filter":"indexof(datum.series,'Wind')>=0"}],"mark":{"type":"line","strokeWidth":1},"encoding":{"x":{"field":"hour","type":"quantitative","scale":{"domain":[-1,24.2],"nice":false,"zero":false},"axis":null},
      "color":{"field":"series","type":"nominal","legend":null,"scale":{"domain":["May 21 Wind speed","May 28 Wind speed","June 6 Wind speed"],"range":["#000000","#000000","#000000"]}}}},
    {"transform":[{"filter":"indexof(datum.series,'Wind')>=0"}],"mark":{"type":"point","opacity":1,"size":34,"strokeWidth":1},"encoding":{"x":{"field":"hour","type":"quantitative"},"color":{"field":"series","type":"nominal","legend":null},
      "shape":{"field":"series","type":"nominal","legend":null,"scale":{"domain":["May 21 Wind speed","May 28 Wind speed","June 6 Wind speed"],"range":["triangle-up","square","circle"]}},
      "fill":{"field":"series","type":"nominal","legend":null,"scale":{"domain":["May 21 Wind speed","May 28 Wind speed","June 6 Wind speed"],"range":["#000000","#ffffff","#000000"]}}}},
    {"transform":[{"filter":"datum.hour<-100"}],"mark":{"type":"point","filled":false,"color":"#000000","size":25,"strokeWidth":1,"opacity":1},
     "encoding":{"x":{"field":"hour","type":"quantitative"},
      "shape":{"field":"series","type":"nominal","scale":{"domain":["May 21 Wind speed","May 28 Wind speed","June 6 Wind speed"],"range":["M-4.4,0H-0.64M0.64,0H4.4M0,-1.1L1.1,0.8L-1.1,0.8Z","M-4.4,0H-0.9M0.9,0H4.4M-0.9,-0.9H0.9V0.9H-0.9Z","M-4.4,0H-1M1,0H4.4M-1,0A1,1,0,1,1,1,0A1,1,0,1,1,-1,0Z"]},"legend":{"legendX":245,"legendY":-43,"rowPadding":3}},
      "fill":{"field":"series","type":"nominal","scale":{"domain":["May 21 Wind speed","May 28 Wind speed","June 6 Wind speed"],"range":["#000000","#ffffff","#000000"]},"legend":{"legendX":245,"legendY":-43,"rowPadding":3}}}},
    {"data":{"values":[{"value":3}]},"mark":{"type":"rule","color":"#000000","strokeDash":[5,3],"strokeWidth":1.2},"encoding":{}}
   ],
   "resolve":{"scale":{"shape":"independent","fill":"independent"}}}
 ],
 "resolve":{"scale":{"x":"independent","y":"independent","color":"independent","shape":"independent","fill":"independent"}}
}
],
"resolve":{"scale":{"x":"independent","y":"independent","color":"independent","shape":"independent","fill":"independent"}}
}
